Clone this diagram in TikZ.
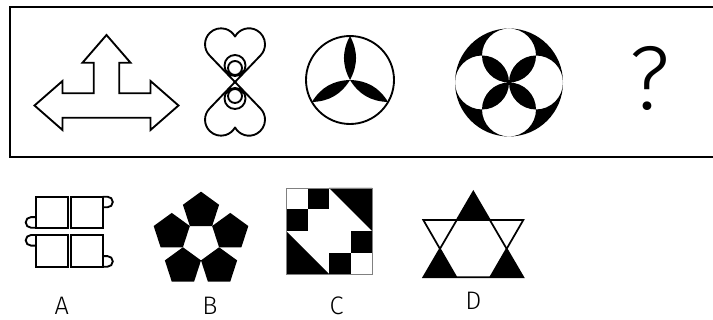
\documentclass[tikz,border=0pt]{standalone}
\usepackage{fontspec}
\newfontfamily\lightfont{Fira Sans Light}
\begin{document}
\begin{tikzpicture}[x=0.75pt,y=-0.75pt,
  outl/.style={draw=black,line width=1.4pt,line join=miter},
  lbl/.style={font=\lightfont\fontsize{19}{22}\selectfont,anchor=base,inner sep=0pt}]
\useasboundingbox (0,0) rectangle (713,320);
\fill[white] (0,0) rectangle (713,320);
% frame
\draw[line width=1.6pt] (716,7) -- (10,7) -- (10,157) -- (716,157);
% figure 1: arrows
\draw[outl] (34.5,105.5) -- (62.5,81) -- (62.5,93.3) -- (93.8,93.3) -- (93.8,62.7) -- (82.5,62.7)
  -- (106.5,35) -- (130.5,62.7) -- (119.2,62.7) -- (119.2,93.3) -- (150.5,93.3) -- (150.5,81)
  -- (178.5,105.5) -- (150.5,130) -- (150.5,117.7) -- (62.5,117.7) -- (62.5,130) -- cycle;
% figure 2: hearts
\draw[outl,line join=round] (235,82) -- (209.5,55.4) arc[start angle=136.1,end angle=331,radius=16]
  arc[start angle=209,end angle=403.9,radius=16] -- cycle;
\draw[outl,line join=round] (235,82) -- (209.5,108.6) arc[start angle=-136.1,end angle=-331,radius=16]
  arc[start angle=-209,end angle=-403.9,radius=16] -- cycle;
\draw[outl] (235,65.5) circle[radius=10.5] (235,68) circle[radius=7]
  (235,98.5) circle[radius=10.5] (235,96) circle[radius=7];
% figure 3: circle with three petals
\draw[outl] (350,80) circle[radius=44];
\foreach \a in {270,150,30}
  \fill[shift={(350,80)}] (0,0) to[bend left=28] (\a:44) to[bend left=28] (0,0);
% figure 4: four circles
\fill[even odd rule] (509,82.5) circle[radius=54] (509,55.5) circle[radius=27]
  (509,109.5) circle[radius=27] (482,82.5) circle[radius=27] (536,82.5) circle[radius=27];
% question mark
\node[anchor=base,inner sep=0pt,font=\lightfont\fontsize{68}{76}\selectfont] (q) at (650,110) {?};
% option A
\draw[outl] (36,196.7) rectangle (67.7,227.7) (71,196.7) rectangle (102.7,227.7)
  (36,235) rectangle (67.7,266.7) (71,235) rectangle (102.7,266.7);
\draw[outl] (102.7,196.7) -- (107.5,196.7) arc[start angle=-90,end angle=90,radius=5.3] -- (102.7,207.3);
\draw[outl] (36,227.7) -- (31,227.7) arc[start angle=90,end angle=270,radius=5.3] -- (36,217.1);
\draw[outl] (36,235) -- (31,235) arc[start angle=270,end angle=90,radius=5.3] -- (36,245.6);
\draw[outl] (102.7,266.7) -- (107.5,266.7) arc[start angle=90,end angle=-90,radius=5.3] -- (102.7,256.1);
% option B
\foreach \a in {270,198,342,126,54}
  \fill[shift={(201,241.4)},shift={(\a:30.74)}] (\a:19) -- (\a+72:19) -- (\a+144:19) -- (\a+216:19) -- (\a+288:19) -- cycle;
% option C
\fill (307.5,188) rectangle (329,209.5);
\fill (286,209.5) rectangle (307.5,231);
\fill (329,188) -- (372,188) -- (372,231) -- cycle;
\fill (350.5,231) rectangle (372,252.5);
\fill (329,252.5) rectangle (350.5,274);
\fill (286,231) -- (286,274) -- (329,274) -- cycle;
\draw[gray,line width=0.6pt] (286,188) rectangle (372,274);
% option D
\fill (473.3,191.7) -- (457,220) -- (489.6,220) -- cycle;
\fill (423.3,277.3) -- (456.4,277.3) -- (439.8,248.65) -- cycle;
\fill (490.2,277.3) -- (523.3,277.3) -- (506.8,248.65) -- cycle;
\draw[outl,line width=1.3pt] (473.3,191.7) -- (523.3,277.3) -- (423.3,277.3) -- cycle;
\draw[outl,line width=1.3pt] (456.4,277.3) -- (423.3,220) -- (523.3,220) -- (490.2,277.3);
% labels
\node[lbl] (la) at (61.7,314.5) {A};
\node[lbl] (lb) at (210,314.5) {B};
\node[lbl] (lc) at (336.7,314.5) {C};
\node[lbl] (ld) at (473.3,309) {D};
\end{tikzpicture}
\end{document}
